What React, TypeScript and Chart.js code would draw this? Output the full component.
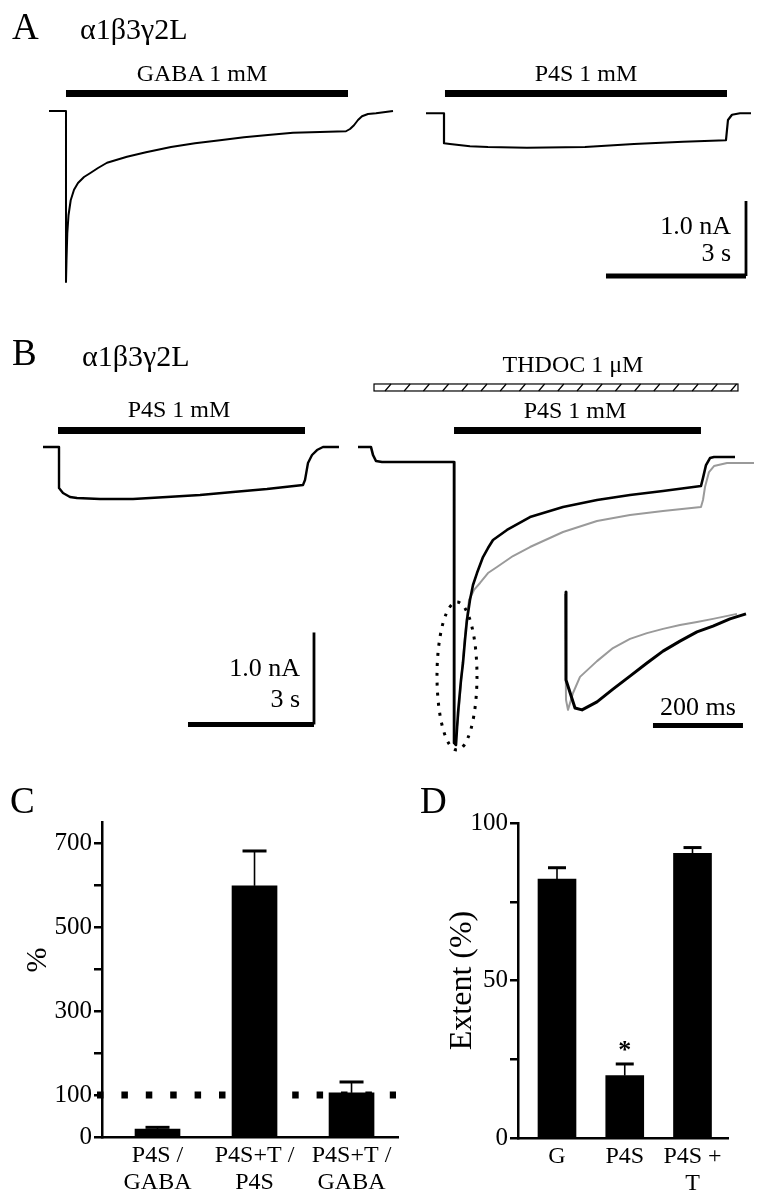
import React, { useEffect, useRef } from "react";
import { Chart, registerables } from "chart.js";

Chart.register(...registerables);

const SERIF = "'Liberation Serif', 'Times New Roman', Times, serif";

// ---------------- Panel A (time in s, current in nA) ----------------
const gabaTimeA = [1.05, 1.414, 1.414, 1.425, 1.442, 1.468, 1.515, 1.586, 1.671, 1.8, 1.928, 2.1, 2.293, 2.507, 2.721, 3.128, 3.664, 4.178, 4.714, 5.228, 5.742, 6.278, 6.857, 7.414, 7.5, 7.585, 7.671, 7.757, 7.885, 8.057, 8.421];
const gabaCurrentA = [0, 0, -2.28, -1.99, -1.63, -1.39, -1.19, -1.05, -0.96, -0.88, -0.83, -0.76, -0.69, -0.65, -0.61, -0.55, -0.48, -0.43, -0.39, -0.35, -0.32, -0.29, -0.28, -0.27, -0.24, -0.19, -0.12, -0.07, -0.04, -0.03, 0];
const p4sTimeA = [9.128, 9.514, 9.514, 9.642, 10.07, 10.456, 11.292, 12.535, 13.585, 14.635, 15.556, 15.599, 15.685, 15.856, 16.092];
const p4sCurrentA = [-0.03, -0.03, -0.43, -0.44, -0.47, -0.48, -0.49, -0.48, -0.44, -0.41, -0.39, -0.12, -0.05, -0.03, -0.03];
const gabaApplicationA = [1.414, 7.457];
const p4sApplicationA = [9.535, 15.578];
const applicationLevelA = 0.233;
const scaleOriginA = [12.985, -2.2];

// ---------------- Panel B (time in s, current in nA) ----------------
const p4sTimeB = [1.024, 1.405, 1.405, 1.5, 1.667, 1.833, 2.381, 3.167, 3.976, 4.762, 5.548, 6.357, 7.214, 7.262, 7.333, 7.429, 7.548, 7.69, 8.071];
const p4sCurrentB = [0, 0, -0.446, -0.5, -0.543, -0.554, -0.565, -0.565, -0.543, -0.522, -0.489, -0.457, -0.413, -0.359, -0.174, -0.087, -0.033, 0, 0];
const thdocTimeB = [8.524, 8.833, 8.881, 8.952, 9.095, 10.81, 10.81, 10.857, 10.905, 10.976, 11.024, 11.071, 11.119, 11.19, 11.262, 11.357, 11.5, 11.619, 11.738, 12.071, 12.619, 13.405, 14.214, 15.0, 15.786, 16.69, 16.738, 16.81, 16.905, 17.0, 17.5];
const thdocCurrentB = [0, 0, -0.087, -0.152, -0.163, -0.163, -3.217, -3.239, -2.891, -2.533, -2.348, -2.098, -1.88, -1.663, -1.5, -1.37, -1.196, -1.098, -1.011, -0.902, -0.761, -0.652, -0.576, -0.522, -0.478, -0.424, -0.337, -0.196, -0.12, -0.109, -0.109];
const scaledTimeB = [10.81, 10.833, 10.905, 11.0, 11.095, 11.167, 11.286, 11.429, 11.619, 11.833, 12.214, 12.619, 13.405, 14.214, 15.0, 15.786, 16.69, 16.738, 16.786, 16.881, 17.0, 17.31, 17.952];
const scaledCurrentB = [-0.163, -3.185, -2.967, -2.424, -1.935, -1.663, -1.554, -1.478, -1.37, -1.304, -1.185, -1.087, -0.924, -0.804, -0.739, -0.696, -0.652, -0.576, -0.435, -0.272, -0.207, -0.174, -0.174];
const p4sApplicationB1 = [1.381, 7.262];
const p4sApplicationB2 = [10.81, 16.69];
const thdocApplicationB = [8.905, 17.571];
const applicationLevelB = 0.18;
const thdocLevelB = 0.647;
const scaleOriginB = [4.476, -3.016];
const peakEllipseCenter = [10.881, -2.489];
const peakEllipseHalf = [0.476, 0.804];

// ---------------- Panel B inset (time in ms) ----------------
const insetTimeBlack = [0, 0, 20, 35.6, 68.9, 104.4, 142.2, 180, 215.6, 253.3, 291.1, 326.7, 364.4, 400];
const insetCurrentBlack = [0, -2.29, -3.02, -3.07, -2.86, -2.53, -2.19, -1.85, -1.54, -1.28, -1.04, -0.89, -0.7, -0.57];
const insetTimeGray = [-2.2, 0, 4.4, 15.6, 31.1, 68.9, 104.4, 142.2, 180, 215.6, 253.3, 291.1, 326.7, 380];
const insetCurrentGray = [-0.05, -2.81, -3.07, -2.63, -2.21, -1.8, -1.46, -1.22, -1.07, -0.96, -0.86, -0.78, -0.7, -0.57];
const insetScaleOrigin = [193.3, -3.477];
const insetScaleMs = 200;

const SCALE_S = 3;
const SCALE_NA = 1.0;

// ---------------- Panel C ----------------
const categoriesC = [["P4S /", "GABA"], ["P4S+T /", "P4S"], ["P4S+T /", "GABA"]];
const valuesC = [19, 598, 105];
const errorsC = [4, 83, 26];
const labeledTicksC = [0, 100, 300, 500, 700];
const referenceLevelC = 100;

// ---------------- Panel D ----------------
const categoriesD = [["G"], ["P4S"], ["P4S +", "T"]];
const valuesD = [82.2, 19.8, 90.4];
const errorsD = [3.6, 3.7, 1.8];
const significantD = [false, true, false];
const labeledTicksD = [0, 50, 100];

// ---------------- helpers ----------------
const zip = (t: number[], v: number[]) => t.map((x, i) => ({ x, y: v[i] }));

function line(data: any[], color: string, width: number, extra: any = {}) {
  return {
    data,
    borderColor: color,
    borderWidth: width,
    pointRadius: 0,
    tension: 0,
    fill: false,
    borderCapStyle: "butt",
    borderJoinStyle: "round",
    ...extra,
  };
}

function bar(range: number[], level: number) {
  return line([{ x: range[0], y: level }, { x: range[1], y: level }], "#000", 7);
}

function scaleBars(origin: number[], dt: number, di: number, hw: number, vw: number) {
  return [
    line([{ x: origin[0], y: origin[1] }, { x: origin[0] + dt, y: origin[1] }], "#000", hw),
    line([{ x: origin[0] + dt, y: origin[1] }, { x: origin[0] + dt, y: origin[1] + di }], "#000", vw),
  ];
}

function traceConfig(datasets: any[], xr: number[], yr: number[], plugins: any[] = []) {
  return {
    type: "line",
    data: { datasets },
    options: {
      responsive: false,
      animation: false,
      events: [],
      layout: { padding: 0 },
      plugins: { legend: { display: false }, tooltip: { enabled: false } },
      scales: {
        x: { type: "linear", display: false, min: xr[0], max: xr[1] },
        y: { type: "linear", display: false, min: yr[0], max: yr[1] },
      },
    },
    plugins,
  };
}

const hatchPlugin = {
  id: "hatchBar",
  afterDatasetsDraw(chart: any) {
    const { ctx, scales } = chart;
    const x0 = scales.x.getPixelForValue(thdocApplicationB[0]);
    const x1 = scales.x.getPixelForValue(thdocApplicationB[1]);
    const yc = scales.y.getPixelForValue(thdocLevelB);
    const h = 7;
    ctx.save();
    ctx.fillStyle = "#fff";
    ctx.fillRect(x0, yc - h / 2, x1 - x0, h);
    ctx.strokeStyle = "#000";
    ctx.lineWidth = 1.2;
    ctx.strokeRect(x0, yc - h / 2, x1 - x0, h);
    ctx.beginPath();
    for (let xx = x0 + 14; xx < x1 - 4; xx += 19.2) {
      ctx.moveTo(xx - 3, yc + h / 2);
      ctx.lineTo(xx + 3, yc - h / 2);
    }
    ctx.stroke();
    ctx.restore();
  },
};

const ellipsePlugin = {
  id: "peakEllipse",
  afterDatasetsDraw(chart: any) {
    const { ctx, scales } = chart;
    const cx = scales.x.getPixelForValue(peakEllipseCenter[0]);
    const cy = scales.y.getPixelForValue(peakEllipseCenter[1]);
    const rx = scales.x.getPixelForValue(peakEllipseCenter[0] + peakEllipseHalf[0]) - cx;
    const ry = cy - scales.y.getPixelForValue(peakEllipseCenter[1] + peakEllipseHalf[1]);
    ctx.save();
    ctx.strokeStyle = "#000";
    ctx.lineWidth = 3;
    ctx.setLineDash([3, 7]);
    ctx.beginPath();
    ctx.ellipse(cx, cy, rx, ry, 0, 0, Math.PI * 2);
    ctx.stroke();
    ctx.restore();
  },
};

function errorBarPlugin(values: number[], errors: number[], capWidth: number, stars?: boolean[]) {
  return {
    id: "errorBars",
    afterDatasetsDraw(chart: any) {
      const { ctx, scales } = chart;
      ctx.save();
      ctx.strokeStyle = "#000";
      ctx.fillStyle = "#000";
      values.forEach((v, i) => {
        const px = scales.x.getPixelForValue(i + 1);
        const yb = scales.y.getPixelForValue(v);
        const yt = scales.y.getPixelForValue(v + errors[i]);
        ctx.lineWidth = 1.6;
        ctx.beginPath();
        ctx.moveTo(px, yb);
        ctx.lineTo(px, yt);
        ctx.stroke();
        ctx.lineWidth = 3;
        ctx.beginPath();
        ctx.moveTo(px - capWidth / 2, yt);
        ctx.lineTo(px + capWidth / 2, yt);
        ctx.stroke();
        if (stars && stars[i]) {
          ctx.font = `bold 26px ${SERIF}`;
          ctx.textAlign = "center";
          ctx.textBaseline = "alphabetic";
          ctx.fillText("*", px, yt - 6);
        }
      });
      ctx.restore();
    },
  };
}

const referenceLinePlugin = {
  id: "refLine",
  beforeDatasetsDraw(chart: any) {
    const { ctx, scales, chartArea } = chart;
    const y = scales.y.getPixelForValue(referenceLevelC);
    ctx.save();
    ctx.strokeStyle = "#000";
    ctx.lineWidth = 7;
    ctx.setLineDash([6.5, 17.9]);
    ctx.beginPath();
    ctx.moveTo(chartArea.left - 5, y);
    ctx.lineTo(chartArea.right - 2, y);
    ctx.stroke();
    ctx.restore();
  },
};

function barConfig(opts: {
  categories: string[][];
  values: number[];
  errors: number[];
  xr: number[];
  yMax: number;
  step: number;
  labeled: number[];
  barThickness: number;
  axisWidth: number;
  axisHeight: number;
  padding: any;
  title?: any;
  plugins: any[];
}) {
  const font = { family: SERIF, size: 25 };
  return {
    type: "bar",
    data: {
      datasets: [
        {
          data: opts.values.map((v, i) => ({ x: i + 1, y: v })),
          backgroundColor: "#000",
          borderWidth: 0,
          barThickness: opts.barThickness,
        },
      ],
    },
    options: {
      responsive: false,
      animation: false,
      events: [],
      layout: { padding: opts.padding },
      plugins: { legend: { display: false }, tooltip: { enabled: false } },
      scales: {
        x: {
          type: "linear",
          min: opts.xr[0],
          max: opts.xr[1],
          offset: false,
          grid: { display: false, drawTicks: false },
          border: { display: true, color: "#000", width: 2.5 },
          afterBuildTicks: (scale: any) => {
            scale.ticks = opts.categories.map((_, i) => ({ value: i + 1 }));
          },
          afterFit: (scale: any) => {
            scale.height = opts.axisHeight;
          },
          ticks: {
            color: "#000",
            font: { family: SERIF, size: 24, lineHeight: 1.12 },
            padding: 5,
            maxRotation: 0,
            autoSkip: false,
            callback: (value: number) => opts.categories[Math.round(value) - 1] || "",
          },
        },
        y: {
          type: "linear",
          min: 0,
          max: opts.yMax,
          grid: { display: true, drawOnChartArea: false, drawTicks: true, tickLength: 8, color: "#000", lineWidth: 2.5 },
          border: { display: true, color: "#000", width: 2.5 },
          afterFit: (scale: any) => {
            scale.width = opts.axisWidth;
          },
          title: opts.title || { display: false },
          ticks: {
            color: "#000",
            font,
            padding: 2,
            stepSize: opts.step,
            includeBounds: false,
            callback: (value: number) => (opts.labeled.includes(value) ? String(value) : ""),
          },
        },
      },
    },
    plugins: opts.plugins,
  };
}

// ---------------- layout ----------------
const VIEW_A = { t: [0, 16.328], i: [-2.52, 1.48] };
const VIEW_B = { t: [0, 18.143], i: [-3.837, 1.598] };
const VIEW_INSET = { t: [-57.8, 435.6], i: [-3.854, 0.573] };

function ChartCanvas({ left, top, width, height, build }: any) {
  const ref = useRef<HTMLCanvasElement>(null);
  useEffect(() => {
    const chart = new Chart(ref.current as HTMLCanvasElement, build());
    return () => chart.destroy();
  }, []);
  return (
    <canvas
      ref={ref}
      width={width}
      height={height}
      style={{ position: "absolute", left, top, width, height, zIndex: 1 }}
    />
  );
}

function Txt({ x, baseline, size, align = "left", children }: any) {
  const style: any = {
    position: "absolute",
    top: baseline - 0.8375 * size,
    fontFamily: SERIF,
    fontSize: size,
    lineHeight: `${size}px`,
    whiteSpace: "nowrap",
    color: "#000",
    zIndex: 2,
  };
  if (align === "left") style.left = x;
  if (align === "center") {
    style.left = x;
    style.transform = "translateX(-50%)";
  }
  if (align === "right") style.right = 762 - x;
  return <div style={style}>{children}</div>;
}

export default function App() {
  return (
    <div
      style={{
        position: "absolute",
        left: 0,
        top: 0,
        width: 762,
        height: 1200,
        background: "#fff",
        overflow: "hidden",
      }}
    >
      <ChartCanvas
        left={0}
        top={0}
        width={762}
        height={300}
        build={() =>
          traceConfig(
            [
              line(zip(gabaTimeA, gabaCurrentA), "#000", 2),
              line(zip(p4sTimeA, p4sCurrentA), "#000", 2.2),
              bar(gabaApplicationA, applicationLevelA),
              bar(p4sApplicationA, applicationLevelA),
              ...scaleBars(scaleOriginA, SCALE_S, SCALE_NA, 5, 2.8),
            ],
            VIEW_A.t,
            VIEW_A.i
          )
        }
      />
      <ChartCanvas
        left={0}
        top={300}
        width={762}
        height={500}
        build={() =>
          traceConfig(
            [
              line(zip(p4sTimeB, p4sCurrentB), "#000", 2.4),
              line(zip(thdocTimeB, thdocCurrentB), "#000", 2.6),
              line(zip(scaledTimeB, scaledCurrentB), "#9a9a9a", 2),
              bar(p4sApplicationB1, applicationLevelB),
              bar(p4sApplicationB2, applicationLevelB),
              ...scaleBars(scaleOriginB, SCALE_S, SCALE_NA, 5, 2.8),
            ],
            VIEW_B.t,
            VIEW_B.i,
            [hatchPlugin, ellipsePlugin]
          )
        }
      />
      <ChartCanvas
        left={540}
        top={570}
        width={222}
        height={170}
        build={() =>
          traceConfig(
            [
              line(zip(insetTimeBlack, insetCurrentBlack), "#000", 3),
              line(zip(insetTimeGray, insetCurrentGray), "#9a9a9a", 2),
              line(
                [
                  { x: insetScaleOrigin[0], y: insetScaleOrigin[1] },
                  { x: insetScaleOrigin[0] + insetScaleMs, y: insetScaleOrigin[1] },
                ],
                "#000",
                5
              ),
            ],
            VIEW_INSET.t,
            VIEW_INSET.i
          )
        }
      />
      <ChartCanvas
        left={0}
        top={780}
        width={420}
        height={420}
        build={() =>
          barConfig({
            categories: categoriesC,
            values: valuesC,
            errors: errorsC,
            xr: [0.4278, 3.479],
            yMax: 750,
            step: 100,
            labeled: labeledTicksC,
            barThickness: 45,
            axisWidth: 102,
            axisHeight: 63,
            padding: { top: 42, right: 22, left: 0, bottom: 0 },
            plugins: [referenceLinePlugin, errorBarPlugin(valuesC, errorsC, 24)],
          })
        }
      />
      <ChartCanvas
        left={400}
        top={780}
        width={362}
        height={420}
        build={() =>
          barConfig({
            categories: categoriesD,
            values: valuesD,
            errors: errorsD,
            xr: [0.4244, 3.524],
            yMax: 100,
            step: 25,
            labeled: labeledTicksD,
            barThickness: 38,
            axisWidth: 118,
            axisHeight: 62,
            padding: { top: 43, right: 34, left: 0, bottom: 0 },
            title: {
              display: true,
              text: "Extent (%)",
              color: "#000",
              font: { family: SERIF, size: 32 },
              padding: { top: 43, bottom: 0 },
            },
            plugins: [errorBarPlugin(valuesD, errorsD, 18, significantD)],
          })
        }
      />

      {/* Panel A text */}
      <Txt x={12} baseline={39} size={37}>A</Txt>
      <Txt x={80} baseline={39} size={30}>α1β3γ2L</Txt>
      <Txt x={202} baseline={81} size={24} align="center">GABA 1 mM</Txt>
      <Txt x={586} baseline={81} size={24} align="center">P4S 1 mM</Txt>
      <Txt x={731} baseline={235} size={26} align="right">1.0 nA</Txt>
      <Txt x={731} baseline={262} size={26} align="right">3 s</Txt>

      {/* Panel B text */}
      <Txt x={12} baseline={365} size={37}>B</Txt>
      <Txt x={82} baseline={366} size={30}>α1β3γ2L</Txt>
      <Txt x={573} baseline={372} size={24} align="center">THDOC 1 μM</Txt>
      <Txt x={179} baseline={417} size={24} align="center">P4S 1 mM</Txt>
      <Txt x={575} baseline={418} size={24} align="center">P4S 1 mM</Txt>
      <Txt x={300} baseline={677} size={26} align="right">1.0 nA</Txt>
      <Txt x={300} baseline={708} size={26} align="right">3 s</Txt>
      <Txt x={698} baseline={716} size={26} align="center">200 ms</Txt>

      {/* Panels C and D */}
      <Txt x={10} baseline={813} size={37}>C</Txt>
      <Txt x={420} baseline={813} size={37}>D</Txt>
      <div
        style={{
          position: "absolute",
          left: 36,
          top: 960,
          transform: "translate(-50%, -50%) rotate(-90deg)",
          fontFamily: SERIF,
          fontSize: 30,
          lineHeight: "30px",
          zIndex: 2,
        }}
      >
        %
      </div>
    </div>
  );
}
